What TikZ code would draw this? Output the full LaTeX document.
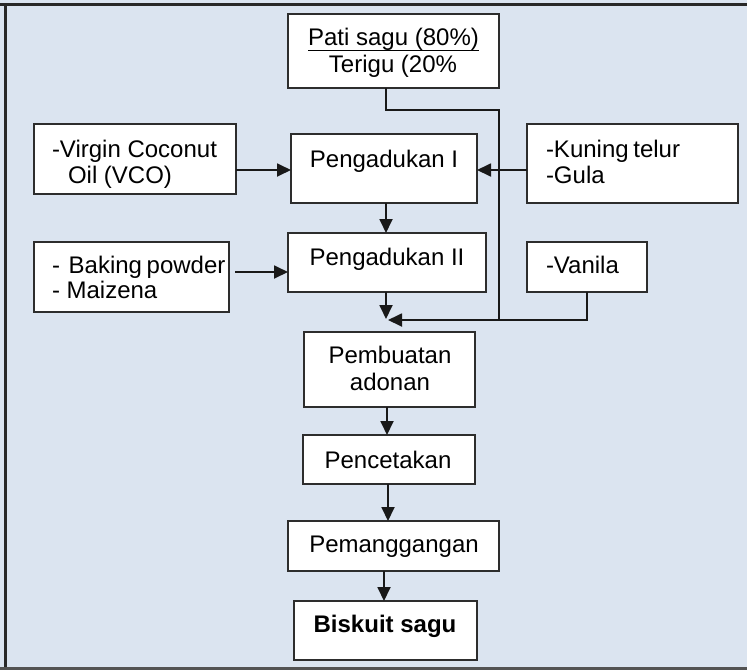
\documentclass[tikz,border=0pt]{standalone}
\usepackage{fontspec}
\setmainfont{Liberation Sans}
\usetikzlibrary{arrows.meta,calc}
\definecolor{bgblue}{RGB}{219,228,240}
\definecolor{frameline}{RGB}{40,40,40}
\definecolor{boxline}{RGB}{45,45,45}
\begin{document}
\begin{tikzpicture}[x=1pt,y=-1pt,
  box/.style={draw=boxline,line width=1.8pt,fill=white,anchor=north west,inner sep=0pt,outer sep=0pt},
  txt/.style={inner sep=0pt,outer sep=0pt,font=\fontsize{24}{26}\selectfont},
  arr/.style={draw=black!90,line width=1.8pt,-{Triangle[length=14pt,width=13pt]}},
  ln/.style={draw=black!90,line width=1.8pt}]
\useasboundingbox (0,0) rectangle (747,670);
\fill[bgblue] (0,0) rectangle (747,670);
\draw[frameline,line width=3pt] (0,4) -- (747,4);
\draw[frameline,line width=3pt] (5,4) -- (5,668.5);
\draw[frameline!80,line width=3pt] (0,668.5) -- (747,668.5);

% boxes
\node[box,minimum width=211pt,minimum height=74pt] (pati) at (288,14) {};
\node[box,minimum width=202pt,minimum height=70pt] (vco) at (34,124) {};
\node[box,minimum width=186pt,minimum height=69pt] (peng1) at (291,134) {};
\node[box,minimum width=211pt,minimum height=79pt] (kuning) at (527,124) {};
\node[box,minimum width=195pt,minimum height=70pt] (baking) at (34,242) {};
\node[box,minimum width=198pt,minimum height=59pt] (peng2) at (288,233) {};
\node[box,minimum width=120pt,minimum height=50pt] (vanila) at (527,242) {};
\node[box,minimum width=171pt,minimum height=75pt] (pemb) at (304,332) {};
\node[box,minimum width=172pt,minimum height=49pt] (penc) at (303,435) {};
\node[box,minimum width=211pt,minimum height=50pt] (pemang) at (288,521) {};
\node[box,minimum width=183pt,minimum height=59pt] (bisk) at (294,601) {};

% texts
\node[txt,anchor=base] (t1) at (393.5,45) {Pati sagu (80\%)};
\draw[black,line width=1pt] ($(t1.base west)+(0,5)$) -- ($(t1.base east)+(0,5)$);
\node[txt,anchor=base] (t2) at (393,72) {Terigu (20\%};
\node[txt,anchor=base west] (t3) at (52,157) {-Virgin Coconut};
\node[txt,anchor=base west] (t4) at (68,183) {Oil (VCO)};
\node[txt,anchor=base] (t5) at (384,167) {Pengadukan I};
\node[txt,anchor=base west] (t6) at (546,157) {-Kuning\hspace{-2pt} telur};
\node[txt,anchor=base west] (t7) at (546,183) {-Gula};
\node[txt,anchor=base west] (t8) at (52,273) {-\hspace{2pt} Baking\hspace{-2pt} powder};
\node[txt,anchor=base west] (t9) at (52,298) {- Maizena};
\node[txt,anchor=base] (t10) at (387,265) {Pengadukan II};
\node[txt,anchor=base west] (t11) at (546,273) {-Vanila};
\node[txt,anchor=base] (t12) at (390,363) {Pembuatan};
\node[txt,anchor=base] (t13) at (390,390) {adonan};
\node[txt,anchor=base] (t14) at (388,468) {Pencetakan};
\node[txt,anchor=base] (t15) at (394,552) {Pemanggangan};
\node[txt,anchor=base] (t16) at (385,632) {\bfseries Biskuit sagu};

% connector coordinates
\coordinate (c1) at (386,110);
\coordinate (c2) at (499,110);
\coordinate (c3) at (499,320);
\coordinate (m) at (388,320);
\coordinate (v1) at (587,320);
\coordinate (a1) at (0,170);
\coordinate (a2) at (0,272);
\coordinate (x1) at (386,0);
\coordinate (x2) at (387,0);
\coordinate (x3) at (388,0);
\coordinate (x4) at (384,0);

% connectors
\draw[ln] (c1 |- pati.south) -- (c1) -- (c2) -- (c3);
\draw[arr] (vanila.south) -- (v1) -- (m);
\draw[arr] (vco.east |- a1) -- (peng1.west |- a1);
\draw[arr] (kuning.west |- a1) -- (peng1.east |- a1);
\draw[arr] (x1 |- peng1.south) -- (x1 |- peng2.north);
\draw[arr,shorten <=6pt] (baking.east |- a2) -- (peng2.west |- a2);
\draw[arr] (x1 |- peng2.south) -- ($(x1 |- m)+(0,-1)$);
\draw[arr] (x2 |- pemb.south) -- (x2 |- penc.north);
\draw[arr] (x3 |- penc.south) -- (x3 |- pemang.north);
\draw[arr] (x4 |- pemang.south) -- (x4 |- bisk.north);
\end{tikzpicture}
\end{document}
